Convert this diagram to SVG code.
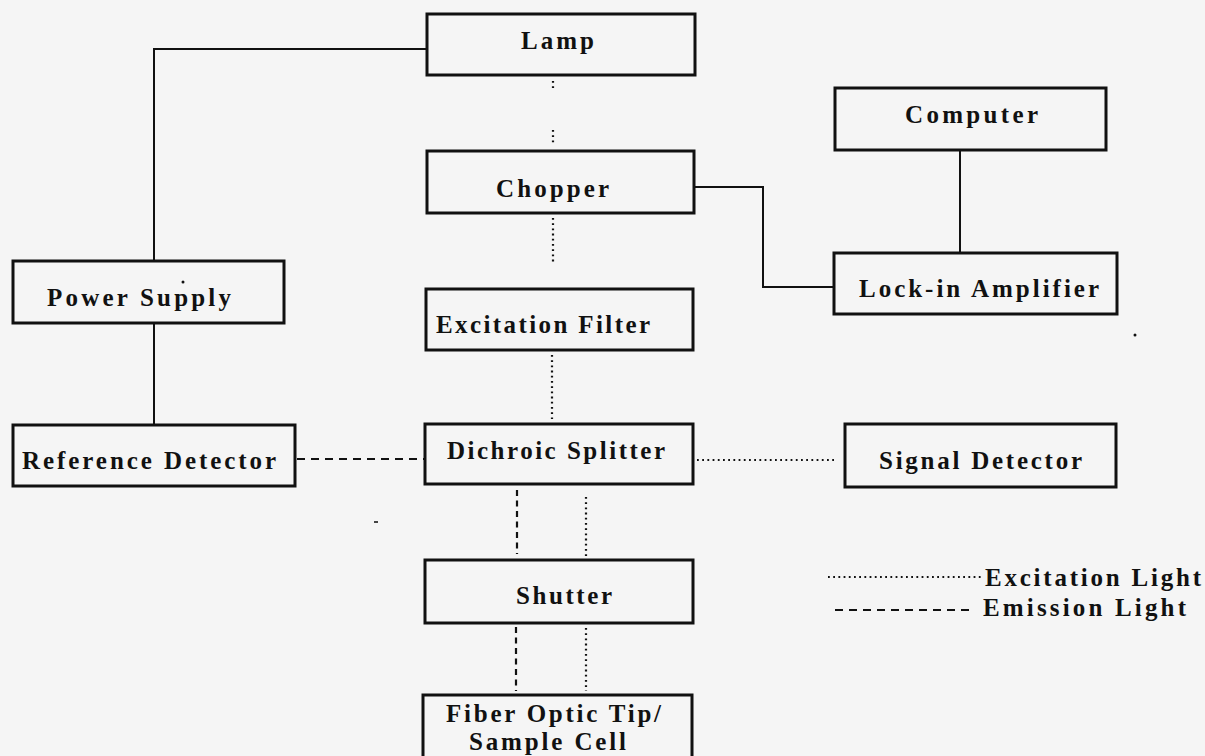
<svg xmlns="http://www.w3.org/2000/svg" width="1205" height="756" viewBox="0 0 1205 756">
<style>
.box{fill:none;stroke:#111;stroke-width:3}
.lbl{font-family:"Liberation Serif","Times New Roman",serif;font-weight:bold;font-size:25px;fill:#111}
.solid{fill:none;stroke:#111;stroke-width:2}
.dot{fill:none;stroke:#111;stroke-width:2.2;stroke-dasharray:1.8 3.4}
.dash{fill:none;stroke:#111;stroke-width:2;stroke-dasharray:8 6}
.vdash{fill:none;stroke:#111;stroke-width:2.2;stroke-dasharray:6 4.5}
</style>
<rect width="1205" height="756" fill="#f5f5f5"/>
<g id="connectors">
<polyline class="solid" points="428,49 154,49 154,261"/>
<line class="solid" x1="154" y1="323" x2="154" y2="425"/>
<polyline class="solid" points="694,187 763,187 763,287 834,287"/>
<line class="solid" x1="960" y1="150" x2="960" y2="253"/>
<line class="dot" x1="553" y1="81" x2="553" y2="91"/>
<line class="dot" x1="553" y1="130" x2="553" y2="145"/>
<line class="dot" x1="553" y1="218" x2="553" y2="264"/>
<line class="dot" x1="552" y1="355" x2="552" y2="419"/>
<line class="dash" x1="297" y1="459" x2="425" y2="459"/>
<line class="dot" x1="697" y1="460" x2="836" y2="460"/>
<line class="vdash" x1="517" y1="490" x2="517" y2="554"/>
<line class="dot" x1="586" y1="497" x2="586" y2="556"/>
<line class="vdash" x1="516" y1="627" x2="516" y2="691"/>
<line class="dot" x1="586" y1="628" x2="586" y2="691"/>
</g>
<g id="lamp"><rect class="box" x="427" y="14" width="268" height="61"/><text class="lbl" x="521" y="49" textLength="73" lengthAdjust="spacing">Lamp</text></g>
<g id="chopper"><rect class="box" x="427" y="151" width="267" height="62"/><text class="lbl" x="496" y="197" textLength="113" lengthAdjust="spacing">Chopper</text></g>
<g id="excitation-filter"><rect class="box" x="426" y="289" width="267" height="61"/><text class="lbl" x="436" y="333" textLength="214" lengthAdjust="spacing">Excitation Filter</text></g>
<g id="dichroic-splitter"><rect class="box" x="425" y="424" width="268" height="60"/><text class="lbl" x="447" y="459" textLength="218" lengthAdjust="spacing">Dichroic Splitter</text></g>
<g id="shutter"><rect class="box" x="425" y="560" width="268" height="63"/><text class="lbl" x="516" y="604" textLength="96" lengthAdjust="spacing">Shutter</text></g>
<g id="fiber-optic"><rect class="box" x="423" y="695" width="269" height="70"/><text class="lbl" x="446" y="722" textLength="215" lengthAdjust="spacing">Fiber Optic Tip/</text><text class="lbl" x="469" y="750" textLength="157" lengthAdjust="spacing">Sample Cell</text></g>
<g id="power-supply"><rect class="box" x="13" y="261" width="271" height="62"/><text class="lbl" x="47" y="306" textLength="184" lengthAdjust="spacing">Power Supply</text><circle cx="183" cy="282" r="1.5" fill="#111"/></g>
<g id="reference-detector"><rect class="box" x="13" y="425" width="282" height="61"/><text class="lbl" x="22" y="469" textLength="254" lengthAdjust="spacing">Reference Detector</text></g>
<g id="signal-detector"><rect class="box" x="845" y="424" width="271" height="63"/><text class="lbl" x="879" y="469" textLength="203" lengthAdjust="spacing">Signal Detector</text></g>
<g id="computer"><rect class="box" x="835" y="88" width="271" height="62"/><text class="lbl" x="905" y="123" textLength="133" lengthAdjust="spacing">Computer</text></g>
<g id="lock-in-amplifier"><rect class="box" x="834" y="253" width="283" height="61"/><text class="lbl" x="859" y="297" textLength="240" lengthAdjust="spacing">Lock-in Amplifier</text></g>
<g id="legend">
<line class="dot" x1="828" y1="577" x2="984" y2="577"/>
<text class="lbl" x="985" y="586" textLength="216" lengthAdjust="spacing">Excitation Light</text>
<line class="dash" x1="835" y1="610" x2="971" y2="610"/>
<text class="lbl" x="983" y="616" textLength="203" lengthAdjust="spacing">Emission Light</text>
</g>
<rect x="374" y="521" width="4" height="2" fill="#444"/>
<circle cx="1135" cy="335" r="1.5" fill="#111"/>
</svg>
